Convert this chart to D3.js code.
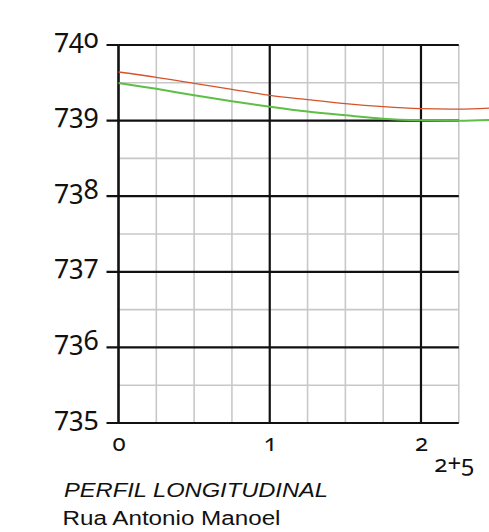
<!DOCTYPE html>
<html>
<head>
<meta charset="utf-8">
<script src="https://cdn.jsdelivr.net/npm/d3@7"></script>
<style>
  html, body { margin: 0; padding: 0; background: #fff; }
  svg { display: block; }
  .num { font-family: "Noto Sans", "Open Sans", sans-serif; font-feature-settings: "onum" 1; fill: #111; }
  .title { font-family: "Liberation Sans", Arial, sans-serif; fill: #111; }
</style>
</head>
<body>
<svg id="chart" width="489" height="532"></svg>
<script>
// ---- data ----
const stations   = [0, 0.25, 0.5, 0.75, 1, 1.25, 1.5, 1.75, 2, 2.25, 2.45];
const terreno    = [739.643, 739.573, 739.493, 739.414, 739.334, 739.277, 739.224, 739.184, 739.158, 739.152, 739.165];
const projeto    = [739.497, 739.420, 739.334, 739.255, 739.184, 739.120, 739.070, 739.025, 739.004, 738.998, 739.008];
const yTicks     = [735, 736, 737, 738, 739, 740];
const xTicks     = [0, 1, 2];
const xTickLabels = ["0", "1", "2"];
const endLabel   = "2+5";
const titleLine1 = "PERFIL LONGITUDINAL";
const titleLine2 = "Rua Antonio Manoel";

// ---- scales ----
const svg = d3.select("#chart");
const x = d3.scaleLinear().domain([0, 2.25]).range([118.5, 458.8]);
const y = d3.scaleLinear().domain([735, 740]).range([423, 45]);

const minorX = d3.range(0, 2.2501, 0.25).filter(v => Math.abs(v - Math.round(v)) > 1e-6 || v > 2.2);
const minorY = d3.range(735.5, 740, 1);

// minor grid
svg.append("g").selectAll("line").data(minorX).join("line")
  .attr("x1", d => x(d)).attr("x2", d => x(d))
  .attr("y1", y(740)).attr("y2", y(735))
  .attr("stroke", "#c8c8c8").attr("stroke-width", 1.6);
svg.append("g").selectAll("line").data(minorY).join("line")
  .attr("x1", x(0)).attr("x2", x(2.25))
  .attr("y1", d => y(d)).attr("y2", d => y(d))
  .attr("stroke", "#c8c8c8").attr("stroke-width", 1.6);

// major grid
svg.append("g").selectAll("line").data(yTicks).join("line")
  .attr("x1", x(0) - 12).attr("x2", x(2.25))
  .attr("y1", d => y(d)).attr("y2", d => y(d))
  .attr("stroke", "#111").attr("stroke-width", 2.2);
svg.append("g").selectAll("line").data(xTicks).join("line")
  .attr("x1", d => x(d)).attr("x2", d => x(d))
  .attr("y1", y(740)).attr("y2", y(735))
  .attr("stroke", "#111").attr("stroke-width", d => d === 0 ? 2.6 : 2.2);

// y axis labels
const yAxis = d3.axisLeft(y).tickValues(yTicks).tickSize(12).tickPadding(8).tickFormat(d3.format("d"));
const gy = svg.append("g").attr("transform", `translate(${x(0)},0)`).call(yAxis);
gy.select(".domain").remove();
gy.selectAll(".tick line").remove();
gy.selectAll(".tick text").attr("class", "num").attr("font-size", 27).attr("dy", "0.08em");

// x axis labels
const xAxis = d3.axisBottom(x).tickValues(xTicks).tickSize(0).tickPadding(0)
  .tickFormat((d, i) => xTickLabels[i]);
const gx = svg.append("g").attr("transform", `translate(0,${y(735)})`).call(xAxis);
gx.select(".domain").remove();
gx.selectAll(".tick text").attr("class", "num").attr("font-size", 24).attr("dy", null).attr("y", 28);

svg.append("text").attr("class", "num").attr("font-size", 24)
  .attr("x", x(2.22)).attr("y", 472).attr("text-anchor", "middle").text(endLabel);

// profile lines
const line = d3.line().x((d, i) => x(stations[i])).y(d => y(d)).curve(d3.curveCatmullRom);
svg.append("path").datum(projeto).attr("d", line)
  .attr("fill", "none").attr("stroke", "#5dbf45").attr("stroke-width", 2);
svg.append("path").datum(terreno).attr("d", line)
  .attr("fill", "none").attr("stroke", "#d4532b").attr("stroke-width", 1.3);

// title
svg.append("text").attr("class", "title").attr("x", 64).attr("y", 496.5)
  .attr("font-size", 20).attr("font-style", "italic")
  .attr("textLength", 264).attr("lengthAdjust", "spacingAndGlyphs").text(titleLine1);
svg.append("text").attr("class", "title").attr("x", 62.5).attr("y", 524.5)
  .attr("font-size", 20)
  .attr("textLength", 218).attr("lengthAdjust", "spacingAndGlyphs").text(titleLine2);
</script>
</body>
</html>
